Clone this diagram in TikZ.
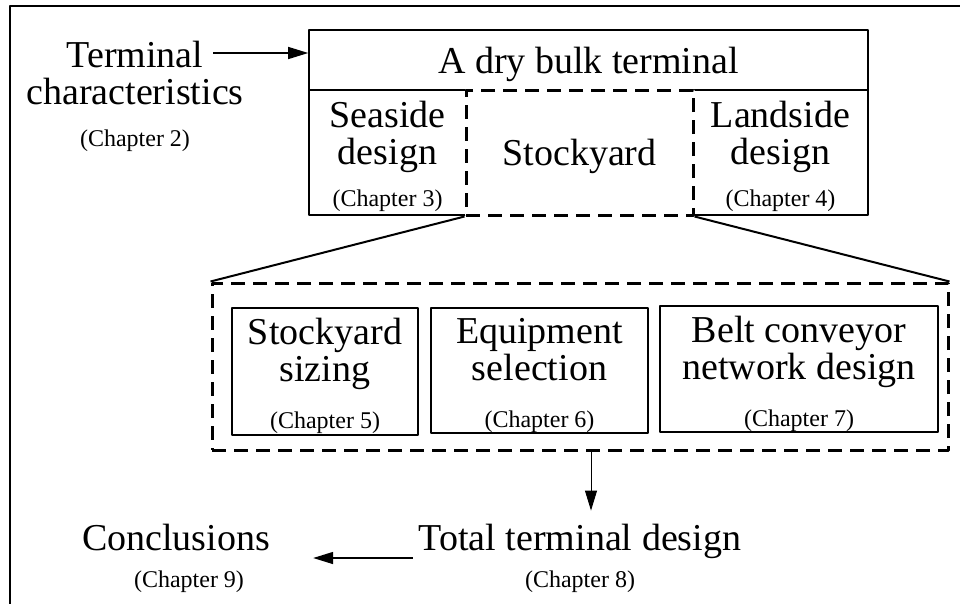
\documentclass[tikz,border=0pt]{standalone}
\usepackage{fontspec}
\setmainfont{Liberation Serif}
\usetikzlibrary{arrows.meta, calc}

\newcommand{\bigfont}{\fontsize{38}{37}\selectfont}
\newcommand{\chapfont}{\fontsize{24}{26}\selectfont}
\newcommand{\toppad}[1]{\rule{0pt}{#1}}% pushes the text down in its box

\begin{document}
\begin{tikzpicture}[x=1pt, y=-1pt, line join=round,
		every node/.style={font=\bigfont, align=center, inner sep=0pt},
		box/.style={draw, line width=1.6pt},
		dashbox/.style={draw, line width=3pt, dash pattern=on 14pt off 8pt,
			preaction={draw=white, solid}},
		flow/.style={-{Triangle[length=20pt, width=12pt]}, line width=1.4pt}]
		
		% Page and frame
		\useasboundingbox (0,0) rectangle (960,603);
		\draw[line width=2pt] (10,640) -- (10,6) -- (990,6);
		
		% 1. The terminal with its three parts
		\node[box, minimum width=559pt, minimum height=60pt, text depth=0pt] (terminal) at (588.5,60) {A dry bulk terminal};
		\node[box, minimum width=157pt, minimum height=125pt] (seaside) at (387.5,152.5)
		{\toppad{35pt}Seaside\\design\\[5pt]{\chapfont (Chapter 3)}};
		\node[box, minimum width=175pt, minimum height=125pt] (landside) at (780.5,152.5)
		{\toppad{35pt}Landside\\design\\[5pt]{\chapfont (Chapter 4)}};
		\node[dashbox, minimum width=227pt, minimum height=125pt, text depth=0pt] (stock) at (579.5,152.5) {Stockyard};
		
		% 2. Input on the left
		\node (tchar) at (135,96) {Terminal\\characteristics\\[5pt]{\chapfont (Chapter 2)}};
		\coordinate (tstart) at (213,53);
		\draw[flow] (tstart) -- (tstart -| terminal.west);
		
		% 3. Zoom into the stockyard
		\node[dashbox, minimum width=736pt, minimum height=167pt] (yard) at (580,366.5) {};
		\draw[line width=2pt] (stock.south west) -- (yard.north west);
		\draw[line width=2pt] (stock.south east) -- (yard.north east);
		
		\node[box, minimum width=186pt, minimum height=127pt] (sizing) at (325,371.5)
		{\toppad{36pt}Stockyard\\sizing\\[10pt]{\chapfont (Chapter 5)}};
		\node[box, minimum width=217pt, minimum height=125pt] (equip) at (539.5,370.5)
		{\toppad{36pt}Equipment\\selection\\[10pt]{\chapfont (Chapter 6)}};
		\node[box, minimum width=278pt, minimum height=126pt] (belt) at (799,369)
		{\toppad{36pt}Belt conveyor\\network design\\[10pt]{\chapfont (Chapter 7)}};
		
		% 4. Results
		\node (total) at (580,558) {Total terminal design\\{\chapfont (Chapter 8)}};
		\node (concl) at (176,558) {Conclusions\\{\chapfont\hspace*{26pt}(Chapter 9)}};
		
		\draw[flow, line width=1pt, shorten >=13pt] ([xshift=11pt]yard.south) -- ([xshift=11pt]yard.south |- total.north);
		\draw[flow, shorten <=6pt, shorten >=43pt] (total) -- (concl);
		
	\end{tikzpicture}
\end{document}
